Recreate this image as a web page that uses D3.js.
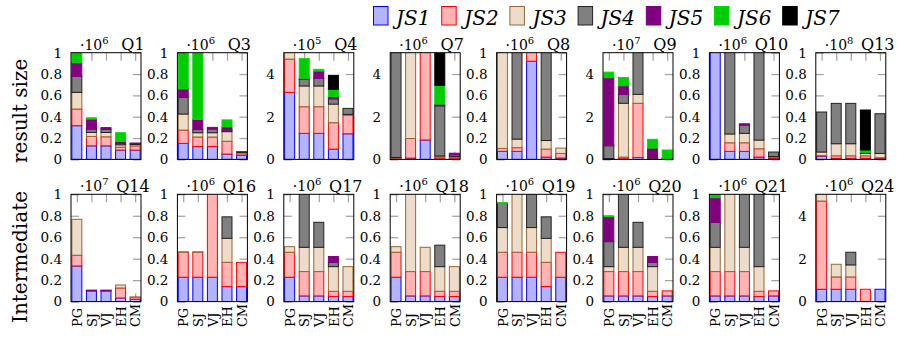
<!DOCTYPE html>
<html>
<head>
<meta charset="utf-8">
<script src="https://cdn.jsdelivr.net/npm/d3@7"></script>
<style>
  body { margin: 0; background: #fff; }
  svg { display: block; }
  text { font-family: "DejaVu Serif", "Liberation Serif", serif; fill: #000; }
</style>
</head>
<body>
<svg id="chart" width="897" height="339"></svg>
<script>
// ---- data -------------------------------------------------------------
const categories = ["PG", "SJ", "VJ", "EH", "CM"];
const seriesNames = ["JS1", "JS2", "JS3", "JS4", "JS5", "JS6", "JS7"];

// Each query: one row per join-step series (JS1..JS7), values for PG, SJ, VJ, EH, CM
const Q1 = [
  [0.316, 0.127, 0.127, 0.087, 0.087],
  [0.156, 0.088, 0.085, 0.028, 0.040],
  [0.156, 0.038, 0.040, 0.022, 0.013],
  [0.150, 0.031, 0.030, 0.013, 0.010],
  [0.128, 0.094, 0.016, 0.019, 0.003],
  [0.094, 0.012, 0, 0.081, 0],
  [0, 0, 0, 0, 0]
];
const Q3 = [
  [0.150, 0.120, 0.120, 0.050, 0.038],
  [0.125, 0.090, 0.090, 0.120, 0.015],
  [0.150, 0.040, 0.040, 0.090, 0.012],
  [0.155, 0.030, 0.035, 0.015, 0.007],
  [0.080, 0.095, 0.015, 0.030, 0],
  [0.400, 0.700, 0, 0.065, 0],
  [0, 0, 0, 0, 0]
];
const Q4 = [
  [3.14, 1.22, 1.22, 0.48, 1.20],
  [1.56, 1.25, 1.25, 1.24, 0.88],
  [0.60, 0.97, 0.97, 0.87, 0.03],
  [0, 0.31, 0.36, 0.25, 0.28],
  [0, 0.05, 0.34, 0.10, 0],
  [0, 0.92, 0.08, 0.34, 0],
  [0, 0, 0, 0.66, 0]
];
const Q7 = [
  [0.03, 0.06, 0.91, 0.03, 0.03],
  [0.03, 0.92, 4.50, 0.08, 0.06],
  [0.03, 4.50, 0, 0.05, 0.05],
  [5.50, 0, 0, 2.35, 0.08],
  [0, 0, 0, 0.08, 0.07],
  [0, 0, 0, 0.88, 0],
  [0, 0, 0, 1.60, 0]
];
const Q8 = [
  [0.075, 0.075, 0.920, 0.022, 0.013],
  [0.028, 0.035, 0.100, 0.075, 0.043],
  [0.950, 0.080, 0, 0.080, 0.050],
  [0, 0.850, 0, 0.850, 0],
  [0, 0, 0, 0, 0],
  [0, 0, 0, 0, 0],
  [0, 0, 0, 0, 0]
];
const Q9 = [
  [0.03, 0.03, 0.09, 0.03, 0.02],
  [0.01, 0.08, 2.54, 0.02, 0],
  [0, 2.52, 0.42, 0.01, 0],
  [0.60, 0.42, 2.00, 0.03, 0.01],
  [3.19, 0.40, 0, 0.44, 0.02],
  [0.26, 0.39, 0, 0.41, 0.39],
  [0, 0, 0, 0, 0]
];
const Q10 = [
  [1.10, 0.075, 0.075, 0.022, 0.010],
  [0, 0.081, 0.081, 0.078, 0.012],
  [0, 0.082, 0.088, 0.081, 0.005],
  [0, 0.900, 0.078, 0.850, 0.042],
  [0, 0, 0.012, 0, 0],
  [0, 0, 0, 0, 0],
  [0, 0, 0, 0, 0]
];
const Q13 = [
  [0.031, 0.010, 0.010, 0.010, 0.010],
  [0.006, 0.024, 0.024, 0.024, 0.006],
  [0.032, 0.113, 0.113, 0.022, 0.040],
  [0.375, 0.378, 0.378, 0.010, 0.372],
  [0, 0, 0, 0, 0],
  [0, 0, 0, 0.022, 0],
  [0, 0, 0, 0.375, 0]
];
const Q14 = [
  [0.332, 0.100, 0.100, 0.034, 0.022],
  [0.100, 0, 0, 0.093, 0.018],
  [0.335, 0, 0, 0.028, 0.003],
  [0, 0.003, 0.003, 0, 0],
  [0, 0.004, 0.004, 0, 0],
  [0, 0, 0, 0, 0],
  [0, 0, 0, 0, 0]
];
const Q16 = [
  [0.227, 0.227, 0.227, 0.140, 0.140],
  [0.233, 0.233, 0.800, 0.226, 0.226],
  [0.004, 0.004, 0, 0.224, 0],
  [0, 0, 0, 0.200, 0],
  [0, 0, 0, 0, 0],
  [0, 0, 0, 0, 0],
  [0, 0, 0, 0, 0]
];
const Q17 = [
  [0.227, 0.053, 0.053, 0.047, 0.047],
  [0.233, 0.227, 0.227, 0.049, 0.049],
  [0.052, 0.226, 0.226, 0.230, 0.230],
  [0, 0.550, 0.233, 0.040, 0],
  [0, 0, 0, 0.054, 0],
  [0, 0, 0, 0, 0],
  [0, 0, 0, 0, 0]
];
const Q18 = [
  [0.227, 0.053, 0.053, 0.047, 0.047],
  [0.233, 0.227, 0.227, 0.049, 0.049],
  [0.052, 0.750, 0.226, 0.230, 0.230],
  [0, 0, 0, 0.200, 0],
  [0, 0, 0, 0, 0],
  [0, 0, 0, 0, 0],
  [0, 0, 0, 0, 0]
];
const Q19 = [
  [0.227, 0.227, 0.227, 0.140, 0.227],
  [0.233, 0.233, 0.233, 0.226, 0.233],
  [0.230, 0.600, 0.230, 0.224, 0],
  [0.226, 0, 0.400, 0.200, 0],
  [0, 0, 0, 0, 0],
  [0.006, 0, 0, 0, 0],
  [0, 0, 0, 0, 0]
];
const Q20 = [
  [0.053, 0.053, 0.053, 0.047, 0.053],
  [0.227, 0.227, 0.227, 0.049, 0.047],
  [0.046, 0.226, 0.226, 0.230, 0],
  [0.233, 0.550, 0.233, 0.040, 0],
  [0.233, 0, 0, 0.054, 0],
  [0.008, 0, 0, 0, 0],
  [0, 0, 0, 0, 0]
];
const Q21 = [
  [0.053, 0.053, 0.053, 0.047, 0.053],
  [0.227, 0.227, 0.227, 0.049, 0.047],
  [0.226, 0.750, 0.226, 0.230, 0],
  [0.233, 0, 0.550, 0.700, 0],
  [0.230, 0, 0, 0, 0],
  [0.040, 0, 0, 0, 0],
  [0, 0, 0, 0, 0]
];
const Q24 = [
  [0.575, 0.575, 0.575, 0, 0.575],
  [4.110, 0.575, 0.575, 0.575, 0],
  [0.500, 0.590, 0.560, 0, 0],
  [0, 0, 0.590, 0, 0],
  [0, 0, 0, 0, 0],
  [0, 0, 0, 0, 0],
  [0, 0, 0, 0, 0]
];

const queryNames = ["Q1", "Q3", "Q4", "Q7", "Q8", "Q9", "Q10", "Q13",
                    "Q14", "Q16", "Q17", "Q18", "Q19", "Q20", "Q21", "Q24"];
const queryData  = [Q1, Q3, Q4, Q7, Q8, Q9, Q10, Q13,
                    Q14, Q16, Q17, Q18, Q19, Q20, Q21, Q24];
const exponents  = [6, 6, 5, 6, 6, 7, 6, 8, 7, 6, 6, 6, 6, 6, 6, 6];
const axisMax    = [1, 1, 5, 5, 1, 5, 1, 1, 1, 1, 1, 1, 1, 1, 1, 5];

const ticksUnit = [0, 0.2, 0.4, 0.6, 0.8, 1];
const tickLabelsUnit = ["0", "0.2", "0.4", "0.6", "0.8", "1"];
const ticksFive = [0, 2, 4];
const tickLabelsFive = ["0", "2", "4"];

// ---- styles -----------------------------------------------------------
const fills   = ["#b3b3ff", "#ffb3b3", "#eedccb", "#808080", "#800080", "#00cc00", "#000000"];
const strokes = ["#0000ff", "#ff0000", "#996633", "#222222", "#800080", "#00dd00", "#000000"];

const svg = d3.select("#chart");

// ---- legend -----------------------------------------------------------
const legend = svg.append("g");
seriesNames.forEach((name, k) => {
  const lx = 373 + k * 68.2;
  legend.append("rect")
    .attr("x", lx + 0.5).attr("y", 6.5).attr("width", 14.5).attr("height", 18.5)
    .attr("fill", fills[k]).attr("stroke", strokes[k]).attr("stroke-width", 1);
  legend.append("text")
    .attr("x", lx + 23).attr("y", 25)
    .attr("font-size", 20).attr("font-style", "italic")
    .text(name);
});

// ---- shared y-axis title --------------------------------------------
svg.append("text")
  .attr("transform", "translate(26.5,163) rotate(-90)")
  .attr("font-size", 20).attr("text-anchor", "start")
  .text("result size");
svg.append("text")
  .attr("transform", "translate(26.5,323) rotate(-90)")
  .attr("font-size", 20).attr("text-anchor", "start")
  .text("Intermediate");

// ---- panels -----------------------------------------------------------
const panelW = 70, colStep = 106.4, firstLeft = 71;
const rowTop = [52.7, 194.3], rowH = [106.7, 107.3];
const tickLen = 8, tickColor = "#a0a0a0";

queryNames.forEach((qname, i) => {
  const row = Math.floor(i / 8), col = i % 8;
  const left = firstLeft + col * colStep, top = rowTop[row], h = rowH[row];
  const bottom = top + h, right = left + panelW;
  const max = axisMax[i];
  const tv = max === 1 ? ticksUnit : ticksFive;
  const tl = max === 1 ? tickLabelsUnit : tickLabelsFive;

  const x = d3.scalePoint().domain(categories).range([left, right]).padding(0.4);
  const y = d3.scaleLinear().domain([0, max]).range([bottom, top]);

  const g = svg.append("g");

  // left axis: inward ticks + labels
  const ax = g.append("g").attr("transform", `translate(${left},0)`)
    .call(d3.axisLeft(y).tickValues(tv).tickFormat((d, j) => tl[j])
      .tickSizeInner(-tickLen).tickSizeOuter(0).tickPadding(9));
  ax.select(".domain").remove();
  ax.selectAll("line").attr("stroke", tickColor).attr("stroke-width", 1.2);
  ax.selectAll("text").attr("font-size", 13.5)
    .attr("font-family", "DejaVu Serif, serif").attr("fill", "#000");

  // right axis ticks
  const ar = g.append("g").attr("transform", `translate(${right},0)`)
    .call(d3.axisRight(y).tickValues(tv).tickFormat("")
      .tickSizeInner(-tickLen).tickSizeOuter(0));
  ar.select(".domain").remove();
  ar.selectAll("line").attr("stroke", tickColor).attr("stroke-width", 1.2);

  // top ticks at bar positions
  const at = g.append("g").attr("transform", `translate(0,${top})`)
    .call(d3.axisTop(x).tickFormat("").tickSizeInner(-tickLen).tickSizeOuter(0));
  at.select(".domain").remove();
  at.selectAll("line").attr("stroke", tickColor).attr("stroke-width", 1.2);

  // bottom ticks (+ category labels on the lower row)
  const ab = g.append("g").attr("transform", `translate(0,${bottom})`)
    .call(d3.axisBottom(x).tickSizeInner(-tickLen).tickSizeOuter(0)
      .tickFormat(row === 1 ? (d => d) : ""));
  ab.select(".domain").remove();
  ab.selectAll("line").attr("stroke", tickColor).attr("stroke-width", 1.2);
  ab.selectAll("text")
    .attr("font-size", 13).attr("font-family", "DejaVu Serif, serif").attr("fill", "#000")
    .attr("transform", "rotate(-90)")
    .attr("text-anchor", "start")
    .attr("x", -25.5).attr("y", 0).attr("dy", "0.36em");

  // stacked bars, clipped to the plot area
  const clipId = "clip" + i;
  g.append("clipPath").attr("id", clipId)
    .append("rect").attr("x", left).attr("y", top).attr("width", panelW).attr("height", h);
  const bars = g.append("g").attr("clip-path", `url(#${clipId})`);

  const stack = d3.stack().keys(d3.range(seriesNames.length))
    .value((d, k) => d[k]);
  const rowsByCat = categories.map((c, j) => queryData[i].map(s => s[j]));
  const layers = stack(rowsByCat);
  const barW = 10;
  layers.forEach((layer, k) => {
    bars.selectAll(null)
      .data(layer.map((seg, j) => ({ seg, cat: categories[j] })).filter(d => d.seg[1] - d.seg[0] > 0))
      .join("rect")
      .attr("x", d => x(d.cat) - barW / 2)
      .attr("width", barW)
      .attr("y", d => y(d.seg[1]))
      .attr("height", d => y(d.seg[0]) - y(d.seg[1]))
      .attr("fill", fills[k])
      .attr("stroke", strokes[k])
      .attr("stroke-width", 1);
  });

  // frame
  g.append("rect").attr("x", left).attr("y", top).attr("width", panelW).attr("height", h)
    .attr("fill", "none").attr("stroke", "#000").attr("stroke-width", 1);

  // scale exponent and query name
  const ex = g.append("text").attr("x", left + 9).attr("y", top - 3).attr("font-size", 14);
  ex.append("tspan").text("·10");
  ex.append("tspan").attr("font-size", 10).attr("dy", -6).text(String(exponents[i]));
  g.append("text").attr("x", (left + right) / 2 + 27).attr("y", top - 2.5)
    .attr("font-size", 16).attr("text-anchor", "middle").text(qname);
});
</script>
</body>
</html>
